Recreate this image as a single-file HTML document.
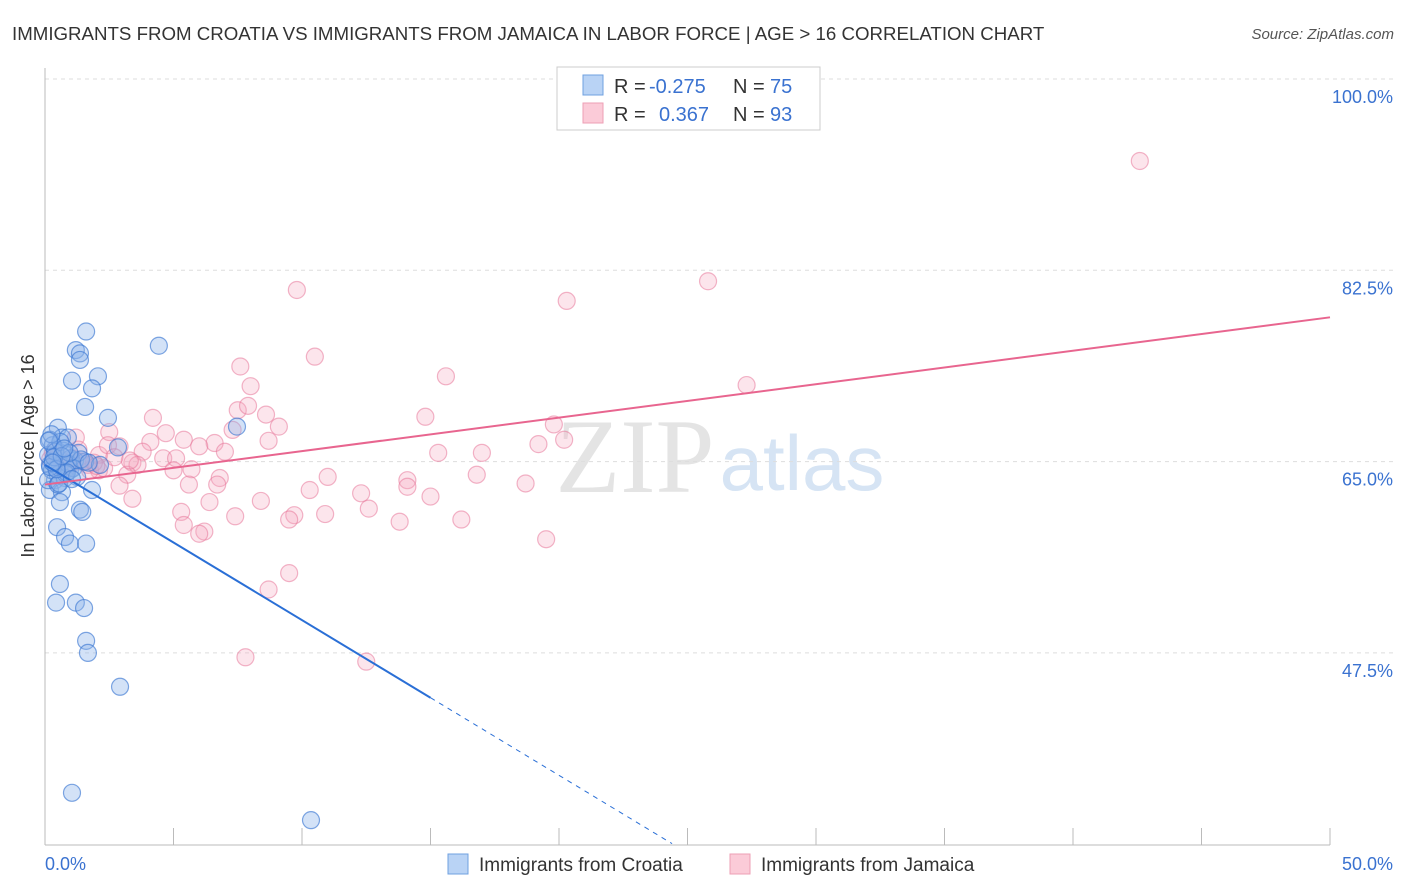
<!DOCTYPE html>
<html><head><meta charset="utf-8">
<style>
body{margin:0;background:#fff;font-family:"Liberation Sans",sans-serif;}
svg{display:block}
</style></head>
<body>
<svg id="chart" width="1406" height="892" xmlns="http://www.w3.org/2000/svg">
<text x="12" y="40" font-size="18.7" fill="#333">IMMIGRANTS FROM CROATIA VS IMMIGRANTS FROM JAMAICA IN LABOR FORCE | AGE &gt; 16 CORRELATION CHART</text>
<text x="1394" y="39" font-size="15" fill="#555" font-style="italic" text-anchor="end">Source: ZipAtlas.com</text>
<text x="635" y="492" font-size="106" fill="#e4e4e4" font-family="Liberation Serif,serif" text-anchor="middle">ZIP</text>
<text x="802" y="490" font-size="78" fill="#d6e4f4" text-anchor="middle">atlas</text>
<g id="grid"></g>
<g id="axes"></g>
<g id="marks"></g>
<g id="lines"></g>
<text transform="translate(34,456) rotate(-90)" font-size="18" fill="#333" text-anchor="middle">In Labor Force | Age &gt; 16</text>
<g>
<rect x="557" y="67" width="263" height="63" fill="#fff" stroke="#ccc"/>
<rect x="583" y="75" width="20" height="20" fill="#b9d3f5" stroke="#6fa0e0"/>
<rect x="583" y="103" width="20" height="20" fill="#fbcbd8" stroke="#ee9fb5"/>
<text x="614" y="93" font-size="20" fill="#333">R = <tspan fill="#3a72d0" x="649">-0.275</tspan></text>
<text x="733" y="93" font-size="20" fill="#333">N = <tspan fill="#3a72d0" x="770">75</tspan></text>
<text x="614" y="121" font-size="20" fill="#333">R = <tspan fill="#3a72d0" x="659">0.367</tspan></text>
<text x="733" y="121" font-size="20" fill="#333">N = <tspan fill="#3a72d0" x="770">93</tspan></text>
</g>
<g>
<rect x="448" y="854" width="20" height="20" fill="#b9d3f5" stroke="#6fa0e0"/>
<text x="479" y="871" font-size="19" fill="#333">Immigrants from Croatia</text>
<rect x="730" y="854" width="20" height="20" fill="#fbcbd8" stroke="#ee9fb5"/>
<text x="761" y="871" font-size="19" fill="#333">Immigrants from Jamaica</text>
</g>
</svg>
<script>
const yTicks=[100,82.5,65,47.5];
const yTickLabels=["100.0%","82.5%","65.0%","47.5%"];
const xTickLabels=["0.0%","50.0%"];
const croatiaX=[1.6,1.2,1.36,1.36,2.06,1.05,1.83,1.56,2.45,4.43,7.47,2.84,0.5,0.66,0.19,0.89,0.39,0.82,1.17,0.19,0.58,0.97,1.56,2.14,0.39,0.78,0.19,0.66,1.83,0.58,1.36,1.45,0.47,0.78,0.97,1.6,0.58,0.43,1.2,1.52,1.6,1.67,2.92,1.05,10.35,0.12,0.27,0.5,0.12,0.31,0.7,1.0,0.3,0.9,1.3,0.5,0.2,0.8,1.1,0.4,0.6,1.4,0.25,0.85,0.15,1.25,0.55,0.35,0.95,1.7,0.45,0.65,1.05,0.3,0.75];
const croatiaY=[76.9,75.2,74.9,74.3,72.8,72.4,71.7,70.0,69.0,75.6,68.2,66.3,68.1,67.2,67.0,67.2,66.1,65.6,65.1,64.7,64.7,64.2,65.0,64.7,63.3,63.5,62.4,62.2,62.4,61.3,60.6,60.4,59.0,58.1,57.5,57.5,53.8,52.1,52.1,51.6,48.6,47.5,44.4,34.7,32.2,65.6,64.2,63.8,63.3,65.0,66.0,65.3,66.5,64.8,65.8,62.9,64.5,63.9,64.4,65.9,66.8,65.2,67.5,64.0,66.9,63.6,63.0,65.4,65.8,64.9,64.3,65.5,63.4,64.9,66.2];
const jamaicaX=[42.6,25.8,20.3,9.8,10.5,7.6,15.6,27.3,8.0,7.5,7.9,8.6,4.2,14.8,9.1,19.8,7.3,20.2,4.7,5.4,4.1,8.7,6.6,19.2,1.2,2.5,2.9,15.3,17.0,7.0,3.8,4.6,5.1,6.0,2.1,3.4,3.6,2.1,3.2,5.0,5.7,6.8,11.0,14.1,14.1,16.8,18.7,5.6,6.7,2.9,10.3,12.3,15.0,3.4,8.4,6.4,5.3,12.6,10.9,7.4,9.7,9.5,13.8,16.2,5.4,6.2,6.0,19.5,9.5,8.7,7.8,12.5,0.66,0.97,1.36,1.67,0.39,0.78,1.75,2.45,3.3,2.3,0.5,1.1,1.9,0.3,0.9,1.5,2.7,0.6,1.3,0.2,2.0];
const jamaicaY=[92.5,81.5,79.7,80.7,74.6,73.7,72.8,72.0,71.9,69.7,70.1,69.3,69.0,69.1,68.2,68.4,67.9,67.0,67.6,67.0,66.8,66.9,66.7,66.6,67.2,67.7,66.4,65.8,65.8,65.9,65.9,65.3,65.3,66.4,65.6,64.9,64.7,64.2,63.8,64.2,64.3,63.5,63.6,63.3,62.7,63.8,63.0,62.9,62.9,62.8,62.4,62.1,61.8,61.6,61.4,61.3,60.4,60.7,60.2,60.0,60.1,59.7,59.5,59.7,59.2,58.6,58.4,57.9,54.8,53.3,47.1,46.7,65.1,64.7,65.0,64.7,64.7,64.2,64.2,66.5,65.1,64.4,65.5,65.3,64.9,65.8,64.5,65.0,65.4,64.0,66.1,65.2,64.6];
const croatiaTrend=[64.7,-1.42];
const jamaicaTrend=[62.9,0.306];
const X0=45,X1=1330,XMAX=50;
const sx=v=>X0+v/XMAX*(X1-X0);
const sy=v=>79+(100-v)*191.3/17.5;
const NS="http://www.w3.org/2000/svg";
function mk(tag,attrs,parent){const e=document.createElementNS(NS,tag);for(const k in attrs)e.setAttribute(k,attrs[k]);parent.appendChild(e);return e;}
const grid=document.getElementById('grid'),axes=document.getElementById('axes'),marks=document.getElementById('marks'),lines=document.getElementById('lines');
yTicks.forEach((t,i)=>{
  const l=mk('line',{x1:45,x2:1394,y1:sy(t),y2:sy(t),stroke:'#ddd','stroke-dasharray':'4,4'},grid);
  
  
  const tx=mk('text',{x:1393,y:sy(t)+24,'font-size':18,fill:'#3a72d0','text-anchor':'end'},axes);
  tx.textContent=yTickLabels[i];
  
  
});
const ax=mk('line',{x1:45,x2:1330,y1:845,y2:845,stroke:'#bbb'},axes);


const ay=mk('line',{x1:45,x2:45,y1:68,y2:845,stroke:'#bbb'},axes);


for(let i=0;i<=10;i++){
  const x=sx(i*5);
  const tk=mk('line',{x1:x,x2:x,y1:828,y2:845,stroke:'#bbb'},axes);
  
  
}
[[0,'start',45],[50,'end',1393]].forEach((d,i)=>{
  const tx=mk('text',{x:d[2],y:870,'font-size':18,fill:'#3a72d0','text-anchor':d[1]},axes);
  tx.textContent=xTickLabels[i];
  
  
});
jamaicaX.forEach((x,i)=>{
  const c=mk('circle',{cx:sx(x),cy:sy(jamaicaY[i]),r:8.5,fill:'rgba(246,170,192,0.3)',stroke:'rgba(232,120,155,0.55)','stroke-width':1.2},marks);
  
  
});
croatiaX.forEach((x,i)=>{
  const c=mk('circle',{cx:sx(x),cy:sy(croatiaY[i]),r:8.5,fill:'rgba(140,180,235,0.38)',stroke:'rgba(60,120,210,0.65)','stroke-width':1.2},marks);
  
  
});
const ct=v=>croatiaTrend[0]+croatiaTrend[1]*v, jt=v=>jamaicaTrend[0]+jamaicaTrend[1]*v;
const l1=mk('line',{x1:sx(0),y1:sy(ct(0)),x2:sx(15),y2:sy(ct(15)),stroke:'#2a6fd6','stroke-width':2},lines);


const l2=mk('line',{x1:sx(15),y1:sy(ct(15)),x2:sx(24.4),y2:sy(ct(24.4)),stroke:'#2a6fd6','stroke-width':1,'stroke-dasharray':'5,5'},lines);


const l3=mk('line',{x1:sx(0),y1:sy(jt(0)),x2:sx(50),y2:sy(jt(50)),stroke:'#e8658f','stroke-width':2},lines);


</script>
</body></html>
